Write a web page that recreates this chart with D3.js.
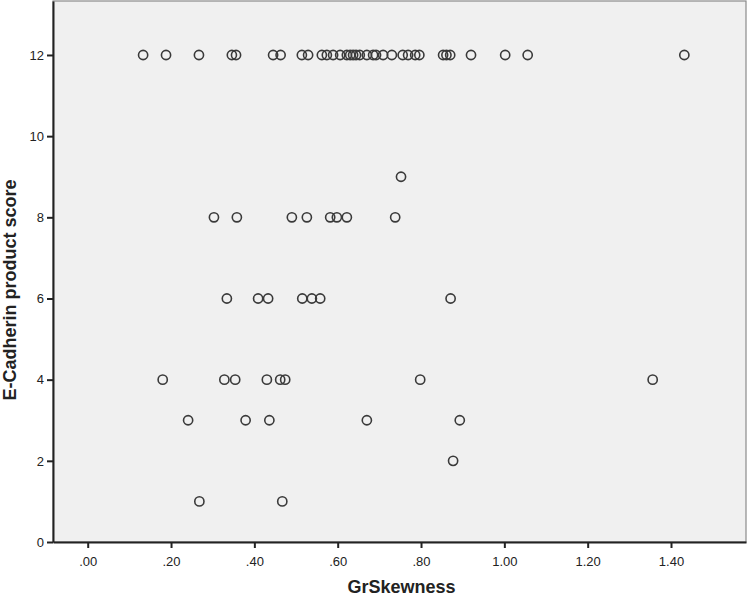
<!DOCTYPE html>
<html>
<head>
<meta charset="utf-8">
<script src="https://cdn.jsdelivr.net/npm/d3@7"></script>
<style>
  html, body { margin: 0; padding: 0; background: #ffffff; }
  svg { display: block; }
  text { font-family: Arial, "Liberation Sans", sans-serif; }
</style>
</head>
<body>
<svg id="chart" width="749" height="596"></svg>
<script>
// ---- Data ----
const xTicks = [0, 0.2, 0.4, 0.6, 0.8, 1.0, 1.2, 1.4];
const yTicks = [0, 2, 4, 6, 8, 10, 12];

const score12 = [0.133, 0.188, 0.267, 0.346, 0.356, 0.445, 0.463, 0.514, 0.529, 0.562, 0.574, 0.589, 0.606, 0.622, 0.630, 0.637, 0.644, 0.653, 0.670, 0.685, 0.692, 0.709, 0.730, 0.756, 0.769, 0.786, 0.796, 0.853, 0.861, 0.870, 0.920, 1.002, 1.056, 1.432];
const score9 = [0.752];
const score8 = [0.303, 0.358, 0.490, 0.526, 0.582, 0.598, 0.622, 0.738];
const score6 = [0.334, 0.409, 0.433, 0.515, 0.538, 0.558, 0.871];
const score4 = [0.180, 0.328, 0.354, 0.430, 0.462, 0.474, 0.798, 1.356];
const score3 = [0.241, 0.379, 0.436, 0.670, 0.893];
const score2 = [0.877];
const score1 = [0.268, 0.467];

const groups = [
  {score: 12, values: score12},
  {score: 9, values: score9},
  {score: 8, values: score8},
  {score: 6, values: score6},
  {score: 4, values: score4},
  {score: 3, values: score3},
  {score: 2, values: score2},
  {score: 1, values: score1}
];
const points = groups.flatMap(g => g.values.map(v => ({x: v, y: g.score})));

// ---- Layout ----
const W = 749, H = 596;
const margin = {top: 1, right: 3, bottom: 54, left: 53};
const iw = W - margin.left - margin.right;
const ih = H - margin.top - margin.bottom;

const svg = d3.select("#chart");
const g = svg.append("g").attr("transform", `translate(${margin.left},${margin.top})`);

const x = d3.scaleLinear().domain([-0.0833, 1.58]).range([0, iw]);
const y = d3.scaleLinear().domain([0, 13.33]).range([ih, 0]);

// background
g.append("rect").attr("x", 0).attr("y", 0).attr("width", iw).attr("height", ih)
  .attr("fill", "#f0f0f0").attr("stroke", "#8a8a8a").attr("stroke-width", 1.2);

const fmtX = v => d3.format(".2f")(v).replace(/^0\./, ".");

const xAxis = g.append("g").attr("transform", `translate(0,${ih})`)
  .call(d3.axisBottom(x).tickValues(xTicks).tickFormat(fmtX).tickSize(6).tickSizeOuter(0));
const yAxis = g.append("g")
  .call(d3.axisLeft(y).tickValues(yTicks).tickFormat(d3.format("d")).tickSize(6).tickSizeOuter(0));

[xAxis, yAxis].forEach(a => {
  a.select(".domain").attr("stroke", "#222").attr("stroke-width", 2);
  a.selectAll(".tick line").attr("stroke", "#222").attr("stroke-width", 2);
  a.selectAll(".tick text").attr("fill", "#222").style("font-size", "13px")
   .style("font-family", "Arial, 'Liberation Sans', sans-serif");
});
xAxis.selectAll(".tick text").attr("dy", "1.15em");
yAxis.selectAll(".tick text").attr("x", -9);

// points
g.append("g").selectAll("circle").data(points).join("circle")
  .attr("cx", d => x(d.x)).attr("cy", d => y(d.y)).attr("r", 4.6)
  .attr("fill", "none").attr("stroke", "#3a3a3a").attr("stroke-width", 1.6);

// axis titles
svg.append("text").attr("x", margin.left + iw / 2 + 2).attr("y", 593)
  .attr("text-anchor", "middle").attr("font-weight", "bold").attr("font-size", 18)
  .attr("fill", "#222").text("GrSkewness");
svg.append("text").attr("transform", `translate(16,290) rotate(-90)`)
  .attr("text-anchor", "middle").attr("font-weight", "bold").attr("font-size", 18)
  .attr("fill", "#222").text("E-Cadherin product score");
</script>
</body>
</html>
